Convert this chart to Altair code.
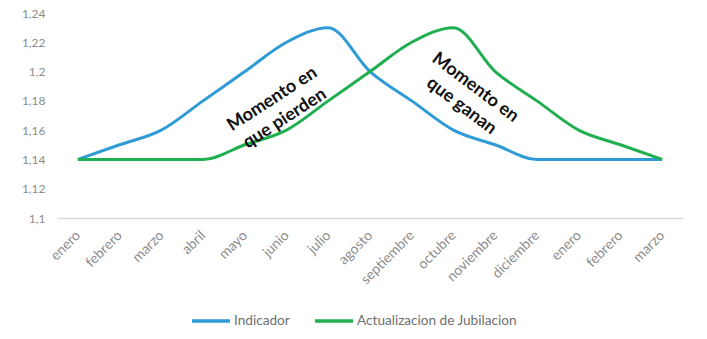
import altair as alt
import pandas as pd

months = ["enero", "febrero", "marzo", "abril", "mayo", "junio", "julio", "agosto",
          "septiembre", "octubre", "noviembre", "diciembre", "enero", "febrero", "marzo"]
indicador = [1.14, 1.15, 1.16, 1.18, 1.20, 1.22, 1.23, 1.20, 1.18, 1.16, 1.15, 1.14, 1.14, 1.14, 1.14]
actualizacion = [1.14, 1.14, 1.14, 1.14, 1.15, 1.16, 1.18, 1.20, 1.22, 1.23, 1.20, 1.18, 1.16, 1.15, 1.14]
series_names = ["Indicador", "Actualizacion de Jubilacion"]
colors = ["#2E9BD6", "#1FAF4F"]
y_ticks = [1.1, 1.12, 1.14, 1.16, 1.18, 1.2, 1.22, 1.24]

ann_text = [["Momento en", "que pierden"], ["Momento en", "que ganan"]]
ann_x = [4.66, 9.52]
ann_y = [1.181, 1.189]
ann_angle = [327, 37]

rows = []
for i, m in enumerate(months):
    rows.append({"idx": i, "serie": series_names[0], "valor": indicador[i]})
    rows.append({"idx": i, "serie": series_names[1], "valor": actualizacion[i]})
df = pd.DataFrame(rows)

ann_df = pd.DataFrame({"idx": ann_x, "valor": ann_y, "t": ann_text, "a": ann_angle})

label_array = "[" + ",".join("'" + m + "'" for m in months) + "]"

x_scale = alt.Scale(domain=[-0.5, len(months) - 0.5], nice=False, zero=False)
y_scale = alt.Scale(domain=[1.1, 1.24], zero=False, nice=False)

x_axis = alt.Axis(values=list(range(len(months))), labelExpr=label_array + "[datum.value]",
                  labelAngle=-45, labelAlign="right", labelBaseline="middle",
                  labelColor="#8c8c8c", labelFont="Lato", labelFontSize=14,
                  labelOverlap=False, labelFlush=False,
                  ticks=False, grid=False, domainColor="#d9d9d9", domainWidth=1.5,
                  labelPadding=15, title=None)
y_axis = alt.Axis(values=y_ticks,
                  labelExpr="replace(format(datum.value, '.2~f'), '.', ',')",
                  labelColor="#8c8c8c", labelFont="Lato", labelFontSize=12,
                  labelOverlap=False, labelFlush=False,
                  ticks=False, domain=False, grid=False, labelPadding=12, title=None)

lines = alt.Chart(df).mark_line(interpolate="monotone", strokeWidth=3).encode(
    x=alt.X("idx:Q", scale=x_scale, axis=x_axis),
    y=alt.Y("valor:Q", scale=y_scale, axis=y_axis),
    color=alt.Color("serie:N",
                    scale=alt.Scale(domain=series_names, range=colors),
                    legend=alt.Legend(orient="none", legendX=133, legendY=287, direction="horizontal",
                                      title=None, symbolType="stroke", symbolStrokeWidth=3.5,
                                      symbolSize=1444, labelFont="Lato", labelFontSize=13.6,
                                      labelLimit=400,
                                      labelColor="#6f6f6f", columnPadding=18, labelOffset=2)),
)

texts = alt.Chart(ann_df).mark_text(font="Lato", fontWeight="bold", fontSize=18, color="#111111",
                                     lineHeight=23, align="center", baseline="middle").encode(
    x=alt.X("idx:Q", scale=x_scale, axis=x_axis),
    y=alt.Y("valor:Q", scale=y_scale, axis=y_axis),
    text="t",
    angle=alt.Angle("a:Q", scale=None),
)

chart = alt.layer(lines, texts).properties(
    width=626, height=205,
    autosize=alt.AutoSizeParams(type="none"),
    padding={"left": 57, "top": 13, "right": 24, "bottom": 121},
    background="white",
).configure_view(stroke=None)

chart.save("out.html", embed_options={"renderer": "svg", "actions": False})
